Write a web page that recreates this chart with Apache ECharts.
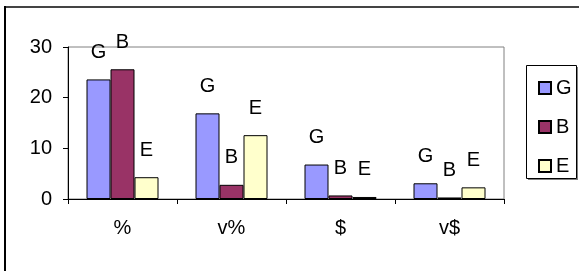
<!DOCTYPE html>
<html><head><meta charset="utf-8">
<script src="https://cdn.jsdelivr.net/npm/echarts@6/dist/echarts.min.js"></script>
<style>html,body{margin:0;padding:0;background:#fff}#c{width:579px;height:271px}</style>
</head><body><div id="c"></div>
<script>
var categories = ['%', 'v%', '$', 'v$'];
var seriesNames = ['G', 'B', 'E'];
var valuesG = [23.6, 16.9, 6.8, 3.1];
var valuesB = [25.6, 2.8, 0.7, 0.3];
var valuesE = [4.3, 12.6, 0.4, 2.3];
var yTicks = [0, 10, 20, 30];
var colors = ['#9999FF', '#993366', '#FFFFCC'];

var font = 'Liberation Sans, Arial, sans-serif';
var fs = 20;
var chart = echarts.init(document.getElementById('c'), null, {renderer: 'canvas'});
var data = [valuesG, valuesB, valuesE];
chart.setOption({
  animation: false,
  textStyle: {fontFamily: font},
  grid: {left: 68, right: 75, top: 47, bottom: 72, show: true, borderColor: '#808080', borderWidth: 1},
  legend: {
    orient: 'vertical', left: 533, top: 72, itemWidth: 12, itemHeight: 12, itemGap: 17,
    icon: 'rect', data: seriesNames,
    textStyle: {fontFamily: font, fontSize: fs, color: '#000', lineHeight: 22}
  },
  graphic: [
    {type: 'line', shape: {x1: 4, y1: 7, x2: 579, y2: 7}, style: {stroke: '#444', lineWidth: 2}},
    {type: 'line', shape: {x1: 5, y1: 6, x2: 5, y2: 271}, style: {stroke: '#000', lineWidth: 2}},
    {type: 'rect', shape: {x: 526.5, y: 65.5, width: 50, height: 113}, style: {fill: 'none', stroke: '#000', lineWidth: 1}, z: -1},
    {type: 'line', shape: {x1: 577.5, y1: 67, x2: 577.5, y2: 180}, style: {stroke: '#808080', lineWidth: 1}},
    {type: 'line', shape: {x1: 528, y1: 179.5, x2: 578, y2: 179.5}, style: {stroke: '#808080', lineWidth: 1}}
  ],
  xAxis: {
    type: 'category', data: categories,
    axisLine: {lineStyle: {color: '#000', width: 1}},
    axisTick: {show: true, length: 5, lineStyle: {color: '#000'}},
    axisLabel: {fontFamily: font, fontSize: fs, color: '#000', margin: 19}
  },
  yAxis: {
    type: 'value', min: 0, max: 30, interval: 10,
    axisLine: {show: true, lineStyle: {color: '#000', width: 1}},
    axisTick: {show: true, length: 5, lineStyle: {color: '#000'}},
    splitLine: {show: false},
    axisLabel: {fontFamily: font, fontSize: fs, color: '#000', margin: 16,
      formatter: function (v) { return yTicks.indexOf(v) >= 0 ? String(v) : ''; }}
  },
  series: seriesNames.map(function (n, i) {
    return {
      name: n, type: 'bar', data: data[i], barWidth: 24, barGap: '0%',
      itemStyle: {color: colors[i], borderColor: '#000', borderWidth: 1},
      label: {show: true, position: 'top', distance: 17, formatter: n,
        fontFamily: font, fontSize: fs, color: '#000'}
    };
  })
});
</script></body></html>
